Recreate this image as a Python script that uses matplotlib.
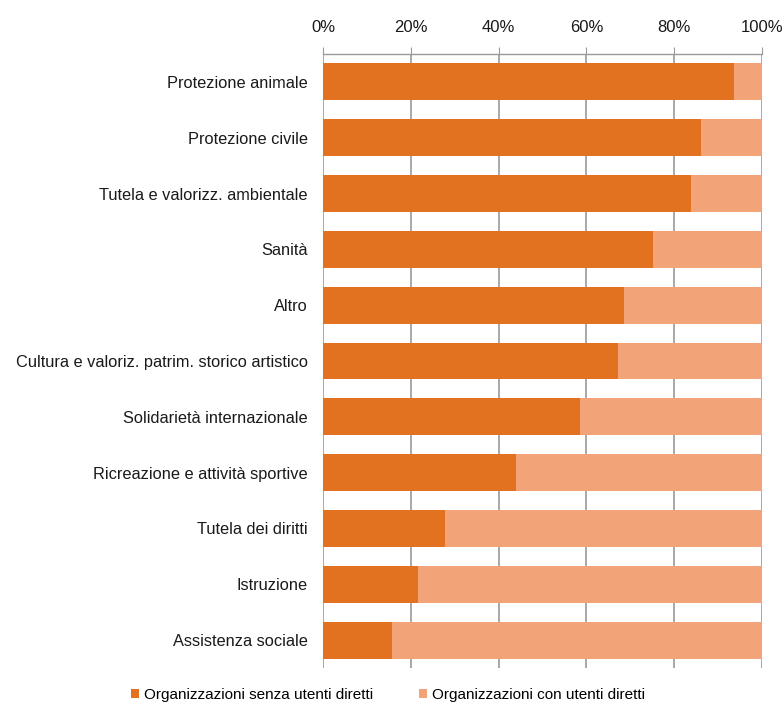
import matplotlib
matplotlib.use("Agg")
import matplotlib.pyplot as plt
from matplotlib.patches import Patch

plt.rcParams['font.family'] = ['Liberation Sans', 'DejaVu Sans']

categories = [
    "Protezione animale",
    "Protezione civile",
    "Tutela e valorizz. ambientale",
    "Sanità",
    "Altro",
    "Cultura e valoriz. patrim. storico artistico",
    "Solidarietà internazionale",
    "Ricreazione e attività sportive",
    "Tutela dei diritti",
    "Istruzione",
    "Assistenza sociale",
]
senza_utenti = [93.7, 86.2, 83.8, 75.1, 68.6, 67.2, 58.6, 43.9, 27.8, 21.7, 15.8]
con_utenti = [100 - v for v in senza_utenti]
series_names = ["Organizzazioni senza utenti diretti", "Organizzazioni con utenti diretti"]
tick_values = [0, 20, 40, 60, 80, 100]
tick_labels = ["0%", "20%", "40%", "60%", "80%", "100%"]

dark = "#E2721F"
light = "#F2A478"
grid = "#9A9A9A"

fig = plt.figure(figsize=(7.84, 7.06), dpi=100)
ax = fig.add_axes([323 / 784, 1 - 668 / 706, 439 / 784, 614 / 706])

y = list(range(len(categories)))
ax.barh(y, senza_utenti, height=0.66, color=dark, zorder=3)
ax.barh(y, con_utenti, left=senza_utenti, height=0.66, color=light, zorder=3)

ax.set_xlim(0, 100)
ax.set_ylim(len(categories) - 0.5, -0.5)
ax.set_yticks(y)
ax.set_yticklabels(categories, fontsize=11.8, color="#1a1a1a")
ax.xaxis.tick_top()
ax.set_xticks(tick_values)
ax.set_xticklabels(tick_labels, fontsize=12, color="#1a1a1a")
ax.tick_params(axis='x', length=5, color=grid, pad=9)
ax.tick_params(axis='y', length=0, pad=11)
ax.xaxis.grid(True, color=grid, linewidth=1.2, zorder=0)

for side in ("left", "right", "bottom"):
    ax.spines[side].set_visible(False)
ax.spines["top"].set_color(grid)
ax.spines["top"].set_linewidth(1.0)

handles = [Patch(facecolor=dark, label=series_names[0]),
           Patch(facecolor=light, label=series_names[1])]
fig.legend(handles=handles, loc="center", bbox_to_anchor=(388 / 784, 1 - 695 / 706),
           ncol=2, frameon=False, fontsize=11, handlelength=0.55, handleheight=0.55,
           handletextpad=0.3, columnspacing=3.0)

fig.savefig("out.png", dpi=100, facecolor="white")
